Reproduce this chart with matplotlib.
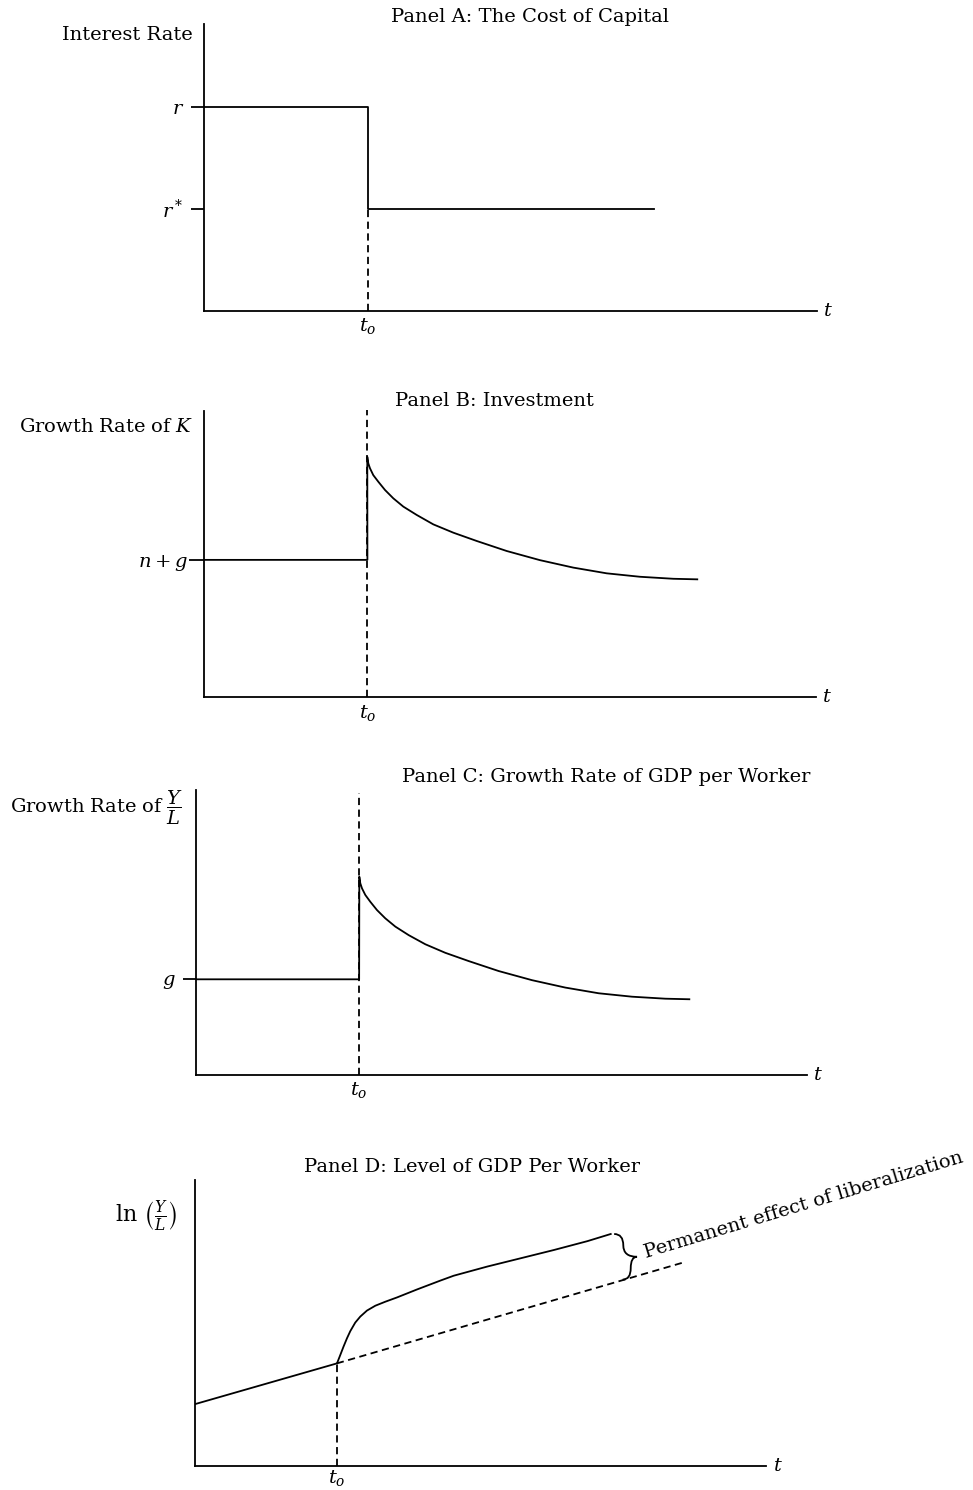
import numpy as np
import matplotlib
matplotlib.use("Agg")
import matplotlib.pyplot as plt
from matplotlib.path import Path
from matplotlib.patches import PathPatch

plt.rcParams['font.family'] = ['DejaVu Serif']
plt.rcParams['mathtext.fontset'] = 'dejavuserif'

# ---- data (axis length = 10 units in every panel) ----
t_end = 10.0

# Panel A: cost of capital
t0_a = 2.67
r_high = 7.12
r_star = 3.56
a_end = 7.35

# Panel B: investment (growth rate of K)
t0_b = 2.67
ng_level = 4.80
b_x = [2.668, 2.685, 2.712, 2.766, 2.848, 2.958, 3.093, 3.257, 3.475, 3.747, 4.074,
       4.456, 4.946, 5.490, 6.034, 6.580, 7.124, 7.668, 8.060]
b_y = [8.40, 8.17, 8.00, 7.76, 7.53, 7.24, 6.95, 6.66, 6.37, 6.04, 5.75,
       5.46, 5.11, 4.79, 4.53, 4.33, 4.21, 4.14, 4.12]

# Panel C: growth rate of Y/L
t0_c = 2.67
g_level = 3.34
c_x = [2.673, 2.689, 2.717, 2.771, 2.853, 2.962, 3.098, 3.262, 3.481, 3.753, 4.080,
       4.463, 4.954, 5.499, 6.044, 6.591, 7.136, 7.681, 8.074]
c_y = [6.94, 6.71, 6.53, 6.30, 6.06, 5.77, 5.48, 5.19, 4.89, 4.57, 4.27,
       3.98, 3.63, 3.31, 3.05, 2.85, 2.73, 2.66, 2.64]

# Panel D: level of Y/L
t0_d = 2.49
trend_x = [0.0, 2.49, 8.60]
trend_y = [2.15, 3.58, 7.14]
d_x = [2.493, 2.550, 2.608, 2.668, 2.726, 2.813, 2.901, 3.018, 3.164, 3.339, 3.544,
       3.895, 4.303, 4.536, 5.122, 5.706, 6.289, 6.875, 7.283]
d_y = [3.58, 3.87, 4.17, 4.46, 4.71, 5.01, 5.22, 5.43, 5.60, 5.74, 5.89,
       6.17, 6.48, 6.65, 6.97, 7.26, 7.55, 7.86, 8.11]

W, H = 973, 1490
fig = plt.figure(figsize=(W / 100, H / 100), dpi=100)

LW = 1.3
DASH = (0, (4, 2.5))
FS = 14


def make_axes(x0, x1, ytop, ybot):
    ax = fig.add_axes([x0 / W, 1 - ybot / H, (x1 - x0) / W, (ybot - ytop) / H])
    ax.set_xlim(0, t_end)
    ax.set_ylim(0, 10)
    for s in ['top', 'right']:
        ax.spines[s].set_visible(False)
    for s in ['left', 'bottom']:
        ax.spines[s].set_linewidth(LW)
    ax.tick_params(axis='x', length=0, labelsize=FS, pad=4)
    ax.tick_params(axis='y', length=9.5, width=LW, labelsize=FS, pad=5)
    ax.text(1.018, 0, '$t$', transform=ax.transAxes, fontsize=FS,
            ha='center', va='center')
    return ax


# Panel A
ax = make_axes(204, 816.5, 24, 310.5)
ax.plot([0, t0_a, t0_a, a_end], [r_high, r_high, r_star, r_star], color='black', lw=LW)
ax.plot([t0_a, t0_a], [0, r_star], color='black', lw=LW, ls=DASH)
ax.set_xticks([t0_a])
ax.set_xticklabels(['$t_o$'])
ax.set_yticks([r_high, r_star])
ax.set_yticklabels(['$r$', '$r^*$'])
ax.text(-0.018, 0.962, 'Interest Rate', transform=ax.transAxes, fontsize=FS,
        ha='right', va='center')
fig.text(530 / W, 1 - 17 / H, 'Panel A: The Cost of Capital', fontsize=FS,
         ha='center', va='center')

# Panel B
ax = make_axes(204, 816, 411, 697.3)
ax.plot([t0_b, t0_b], [0, 10.03], color='black', lw=LW, ls=DASH, clip_on=False)
ax.plot([0] + [t0_b] + b_x, [ng_level, ng_level] + b_y, color='black', lw=LW)
ax.set_xticks([t0_b])
ax.set_xticklabels(['$t_o$'])
ax.set_yticks([ng_level])
ax.set_yticklabels(['$n+g$'])
ax.tick_params(axis='y', length=11, pad=0.5)
ax.text(-0.018, 0.943, 'Growth Rate of $K$', transform=ax.transAxes, fontsize=FS,
        ha='right', va='center')
fig.text(494 / W, 1 - 401 / H, 'Panel B: Investment', fontsize=FS,
         ha='center', va='center')

# Panel C
ax = make_axes(196, 807, 789.5, 1074.5)
ax.plot([t0_c, t0_c], [0, 9.87], color='black', lw=LW, ls=DASH)
ax.plot([0] + [t0_c] + c_x, [g_level, g_level] + c_y, color='black', lw=LW)
ax.set_xticks([t0_c])
ax.set_xticklabels(['$t_o$'])
ax.set_yticks([g_level])
ax.set_yticklabels(['$g$'])
ax.text(-0.021, 0.935, r'Growth Rate of $\dfrac{Y}{L}$', transform=ax.transAxes,
        fontsize=FS, ha='right', va='center')
fig.text(606 / W, 1 - 777 / H, 'Panel C: Growth Rate of GDP per Worker', fontsize=FS,
         ha='center', va='center')

# Panel D
ax = make_axes(194.5, 766, 1180, 1465.7)
ax.texts[0].set_x(1.021)
ax.tick_params(axis='x', pad=2)
ax.plot(trend_x[:2], trend_y[:2], color='black', lw=LW)
ax.plot(trend_x[1:], trend_y[1:], color='black', lw=LW, ls=DASH)
ax.plot([t0_d, t0_d], [0, trend_y[1]], color='black', lw=LW, ls=DASH)
ax.plot(d_x, d_y, color='black', lw=LW)
ax.set_xticks([t0_d])
ax.set_xticklabels(['$t_o$'])
ax.set_yticks([])
ax.text(-0.030, 0.875, r'ln $\left(\frac{Y}{L}\right)$', transform=ax.transAxes,
        fontsize=FS + 2, ha='right', va='center')
fig.text(472 / W, 1 - 1167 / H, 'Panel D: Level of GDP Per Worker', fontsize=FS,
         ha='center', va='center')

# brace between the new path and the old trend
top_x, top_y = d_x[-1] + 0.06, d_y[-1]
bot_x = d_x[-1] + 0.21
bot_y = np.interp(bot_x, trend_x, trend_y) + 0.02
tip_x = d_x[-1] + 0.46
tip_y = (top_y + bot_y) / 2
arm1 = top_x + 0.16
arm2 = bot_x + 0.14
verts = [(top_x, top_y), (arm1, top_y), (arm1, (top_y + tip_y) / 2),
         (arm1, tip_y), (tip_x, tip_y),
         (arm2, tip_y), (arm2, (tip_y + bot_y) / 2),
         (arm2, bot_y), (bot_x, bot_y)]
codes = [Path.MOVETO, Path.CURVE3, Path.CURVE3, Path.CURVE3, Path.CURVE3,
         Path.CURVE3, Path.CURVE3, Path.CURVE3, Path.CURVE3]
ax.add_patch(PathPatch(Path(verts, codes), fill=False, lw=LW, color='black',
                       clip_on=False))
ax.text(tip_x + 0.16, tip_y - 0.05, 'Permanent effect of liberalization', fontsize=FS,
        rotation=16.8, rotation_mode='anchor', ha='left', va='baseline')

fig.savefig('out.png', dpi=100)
